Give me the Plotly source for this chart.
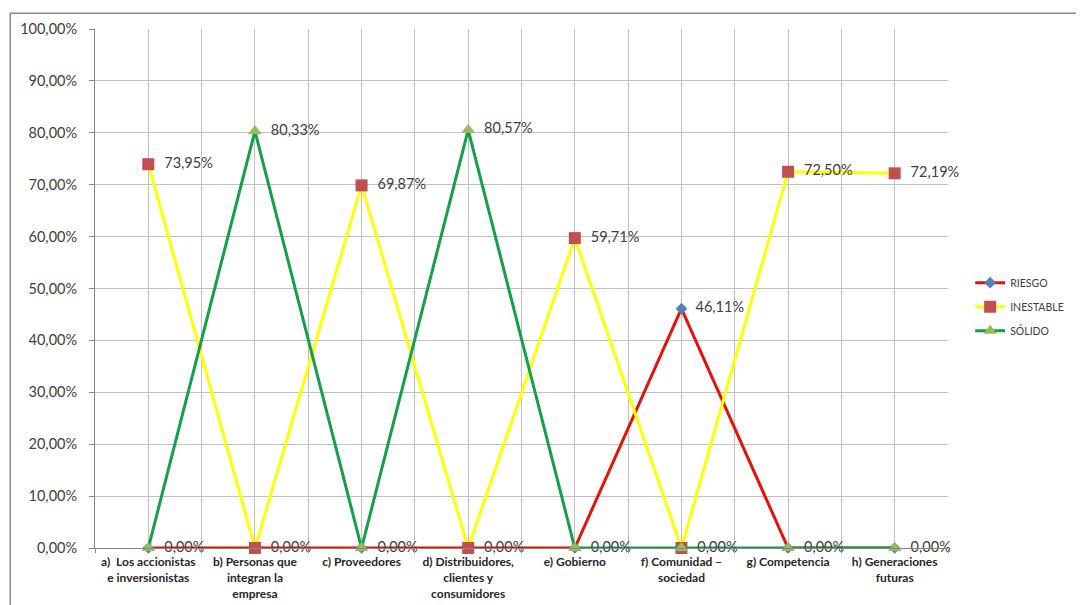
import plotly.graph_objects as go

categories = [
    "a)  Los accionistas<br>e inversionistas",
    "b) Personas que<br>integran la<br>empresa",
    "c) Proveedores",
    "d) Distribuidores,<br>clientes y<br>consumidores",
    "e) Gobierno",
    "f) Comunidad \u2013<br>sociedad",
    "g) Competencia",
    "h) Generaciones<br>futuras",
]
riesgo = [0.00, 0.00, 0.00, 0.00, 0.00, 46.11, 0.00, 0.00]
inestable = [73.95, 0.00, 69.87, 0.00, 59.71, 0.00, 72.50, 72.19]
solido = [0.00, 80.33, 0.00, 80.57, 0.00, 0.00, 0.00, 0.00]
y_ticks = [0, 10, 20, 30, 40, 50, 60, 70, 80, 90, 100]

idx = list(range(len(categories)))
FONT = "Lato"
TXT = "#404040"

series = [
    ("RIESGO", riesgo, "#E3120B", "#4F81BD", "diamond", 9),
    ("INESTABLE", inestable, "#FFFF00", "#C0504D", "square", 12),
    ("SÓLIDO", solido, "#12A04B", "#9BBB59", "triangle-up", 12),
]

# one label per distinct point: a later-drawn series with the same value hides earlier labels
all_vals = [s[1] for s in series]
labels = []
for si, vals in enumerate(all_vals):
    row = []
    for ci, v in enumerate(vals):
        hidden = any(all_vals[sj][ci] == v for sj in range(si + 1, len(all_vals)))
        row.append("" if hidden else "  " + f"{v:.2f}".replace(".", ",") + "%")
    labels.append(row)

fig = go.Figure()
for (name, vals, lc, mc, sym, ms), txt in zip(series, labels):
    fig.add_trace(go.Scatter(
        x=idx, y=[v / 100 for v in vals], name=name, legendgroup=name,
        mode="lines+markers+text",
        line=dict(color=lc, width=3),
        marker=dict(color=mc, symbol=sym, size=ms),
        text=txt, textposition="middle right",
        textfont=dict(family=FONT, size=14.5, color=TXT),
        cliponaxis=False,
    ))

fig.update_layout(
    width=1084, height=605,
    margin=dict(l=84, r=144, t=13, b=65),
    paper_bgcolor="white", plot_bgcolor="white",
    separators=", ",
    font=dict(family=FONT, color=TXT),
    legend=dict(x=1.026, y=0.465, xanchor="left", yanchor="middle",
                font=dict(family=FONT, size=10.5, color=TXT),
                tracegroupgap=5, itemwidth=30, bgcolor="rgba(0,0,0,0)"),
    xaxis=dict(
        range=[-0.5, len(categories) - 0.5],
        tickmode="array", tickvals=idx, ticktext=categories,
        tickfont=dict(family=FONT, size=12, color="#262626", weight="bold"),
        showgrid=True, gridcolor="#C0C0C0", gridwidth=1,
        ticks="", showline=True, linecolor="#868686", linewidth=1,
        zeroline=False, ticklabelstandoff=3,
        minor=dict(tickvals=[i - 0.5 for i in range(len(categories) + 1)],
                   showgrid=True, gridcolor="#C0C0C0", gridwidth=1,
                   ticks="outside", ticklen=4, tickcolor="#868686"),
    ),
    yaxis=dict(
        range=[0, 1], tickmode="array", tickvals=[t / 100 for t in y_ticks],
        tickformat=".2%", tickfont=dict(family=FONT, size=14.5, color=TXT),
        showgrid=True, gridcolor="#C0C0C0", gridwidth=1,
        ticks="outside", ticklen=5, tickcolor="#868686", ticklabelstandoff=9,
        showline=True, linecolor="#868686", linewidth=1, zeroline=False,
    ),
    shapes=[dict(type="rect", xref="paper", yref="paper",
                 x0=-0.0993, x1=1.5, y0=-0.5, y1=1.0304,
                 line=dict(color="#8C8C8C", width=1.5), layer="below")],
)

fig.write_html("out.html")
